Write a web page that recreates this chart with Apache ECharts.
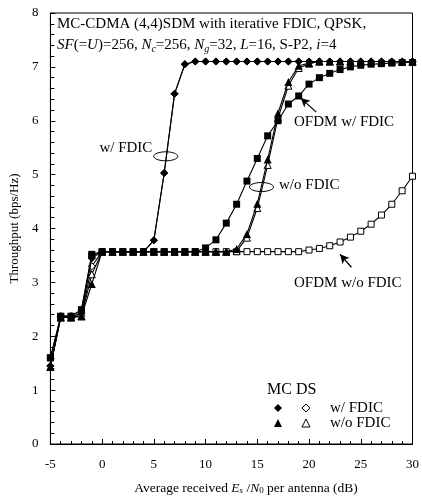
<!DOCTYPE html>
<html>
<head>
<meta charset="utf-8">
<script src="https://cdn.jsdelivr.net/npm/echarts@6/dist/echarts.min.js"></script>
<style>html,body{margin:0;padding:0;background:#fff}#c{width:422px;height:500px}</style>
</head>
<body>
<div id="c"></div>
<script>
// Es/N0 grid (dB)
const snr = [-5,-4,-3,-2,-1,0,1,2,3,4,5,6,7,8,9,10,11,12,13,14,15,16,17,18,19,20,21,22,23,24,25,26,27,28,29,30];
// MC-CDMA w/ FDIC (filled diamond)
const mcWith = [1.45,2.37,2.37,2.42,3.45,3.57,3.57,3.57,3.57,3.57,3.78,5.03,6.5,7.05,7.1,7.1,7.1,7.1,7.1,7.1,7.1,7.1,7.1,7.1,7.1,7.1,7.1,7.1,7.1,7.1,7.1,7.1,7.1,7.1,7.1,7.1];
// DS-CDMA w/ FDIC (open diamond)
const dsWith = [1.45,2.37,2.37,2.38,3.3,3.57,3.57,3.57,3.57,3.57,3.78,5.03,6.5,7.05,7.1,7.1,7.1,7.1,7.1,7.1,7.1,7.1,7.1,7.1,7.1,7.1,7.1,7.1,7.1,7.1,7.1,7.1,7.1,7.1,7.1,7.1];
// MC-CDMA w/o FDIC (filled triangle)
const mcWithout = [1.43,2.35,2.35,2.37,2.97,3.57,3.57,3.57,3.57,3.57,3.57,3.57,3.57,3.57,3.57,3.57,3.57,3.57,3.62,3.9,4.46,5.28,6.14,6.72,7.02,7.07,7.1,7.1,7.1,7.1,7.1,7.1,7.1,7.1,7.1,7.1];
// DS-CDMA w/o FDIC (open triangle)
const dsWithout = [1.43,2.35,2.35,2.37,3.15,3.57,3.57,3.57,3.57,3.57,3.57,3.57,3.57,3.57,3.57,3.57,3.57,3.57,3.58,3.83,4.38,5.18,6.05,6.65,6.98,7.06,7.1,7.1,7.1,7.1,7.1,7.1,7.1,7.1,7.1,7.1];
// OFDM w/ FDIC (filled square)
const ofdmWith = [1.6,2.37,2.37,2.49,3.52,3.57,3.57,3.57,3.57,3.57,3.57,3.57,3.57,3.57,3.57,3.64,3.79,4.1,4.45,4.88,5.3,5.72,6.0,6.31,6.46,6.68,6.8,6.88,6.95,7.0,7.03,7.05,7.06,7.07,7.08,7.08];
// OFDM w/o FDIC (open square)
const ofdmWithout = [1.6,2.37,2.37,2.49,3.5,3.57,3.57,3.57,3.57,3.57,3.57,3.57,3.57,3.57,3.57,3.57,3.57,3.57,3.57,3.57,3.57,3.57,3.57,3.57,3.57,3.6,3.63,3.68,3.75,3.84,3.95,4.08,4.25,4.45,4.7,4.97];

const xTicks = [-5,0,5,10,15,20,25,30];
const yTicks = [0,1,2,3,4,5,6,7,8];

const FONT = 'Liberation Serif';
const pairs = arr => snr.map((x,i)=>[x,arr[i]]);

function mk(name, arr, symbol, size, filled, z){
  return {
    name, type:'line', data:pairs(arr), symbol, symbolSize:size, z,
    showSymbol:true, animation:false,
    lineStyle:{color:'#000', width:1.1},
    itemStyle:{color: filled ? '#000' : '#fff', borderColor:'#000', borderWidth: filled?0:1}
  };
}

const chart = echarts.init(document.getElementById('c'), null, {renderer:'canvas'});

const series = [
  mk('OFDM w/o FDIC', ofdmWithout, 'rect', 6, false, 2),
  mk('DS w/ FDIC', dsWith, 'diamond', 7, false, 3),
  mk('MC w/ FDIC', mcWith, 'diamond', 8, true, 4),
  mk('DS w/o FDIC', dsWithout, 'triangle', 7, false, 5),
  mk('MC w/o FDIC', mcWithout, 'triangle', 8, true, 6),
  mk('OFDM w/ FDIC', ofdmWith, 'rect', 7, true, 7),
  {
    type:'line', data:[], z:8, silent:true,
    markLine:{
      silent:true, symbol:['none','arrow'], symbolSize:[7,9], animation:false,
      label:{show:false},
      lineStyle:{color:'#000', width:1.3, type:'solid'},
      data:[
        [{coord:[20.7,6.16]},{coord:[19.2,6.42]}],
        [{coord:[24.1,3.28]},{coord:[23.0,3.52]}]
      ]
    }
  }
];

chart.setOption({
  animation:false,
  textStyle:{fontFamily:FONT},
  grid:{left:47, right:2, top:13, bottom:56, show:true, borderColor:'#000', borderWidth:1, backgroundColor:'transparent'},
  xAxis:{
    type:'value', min:xTicks[0], max:xTicks[xTicks.length-1], interval:5,
    axisLine:{onZero:false, lineStyle:{color:'#000', width:1}},
    axisTick:{inside:true, length:5, lineStyle:{color:'#000'}},
    minorTick:{show:true, splitNumber:5, length:3, lineStyle:{color:'#000'}},
    splitLine:{show:false},
    axisLabel:{color:'#000', fontSize:13, fontFamily:FONT, margin:14}
  },
  yAxis:{
    type:'value', min:yTicks[0], max:yTicks[yTicks.length-1], interval:1,
    name:'Throughput (bps/Hz)', nameLocation:'middle', nameGap:29,
    nameTextStyle:{color:'#000', fontSize:13, fontFamily:FONT},
    axisLine:{onZero:false, lineStyle:{color:'#000', width:1}},
    axisTick:{inside:true, length:5, lineStyle:{color:'#000'}},
    minorTick:{show:true, splitNumber:5, length:4, lineStyle:{color:'#000'}},
    splitLine:{show:false},
    axisLabel:{color:'#000', fontSize:13, fontFamily:FONT, margin:12}
  },
  series
});

function px(x,y){ return chart.convertToPixel({gridIndex:0},[x,y]); }

const T = {fontFamily:FONT, fill:'#000', fontSize:15};
const richT = {
  i:{fontFamily:FONT, fontStyle:'italic', fontSize:15, color:'#000'},
  n:{fontFamily:FONT, fontSize:15, color:'#000'},
  sub:{fontFamily:FONT, fontStyle:'italic', fontSize:10, color:'#000', padding:[7,0,0,0]}
};
const richX = {
  i:{fontFamily:FONT, fontStyle:'italic', fontSize:13.5, color:'#000'},
  n:{fontFamily:FONT, fontSize:13.5, color:'#000'},
  sub:{fontFamily:FONT, fontStyle:'italic', fontSize:9, color:'#000', padding:[5,0,0,0]},
  sub0:{fontFamily:FONT, fontSize:9, color:'#000', padding:[5,0,0,0]}
};

const p1 = px(4.85,5.5), e1 = px(6.15,5.34);
const p2 = px(17.1,4.8), e2 = px(15.4,4.77);
const p3 = px(18.55,5.97);
const p4 = px(18.55,2.99);

const graphic = [
  {type:'text', left:57, top:17, style:{...T, text:'MC-CDMA (4,4)SDM with iterative FDIC, QPSK,'}},
  {type:'text', left:57, top:38, style:{...T, text:'{i|SF}{n|(=}{i|U}{n|)=256, }{i|N}{sub|c}{n|=256, }{i|N}{sub|g}{n|=32, }{i|L}{n|=16, S-P2, }{i|i}{n|=4}', rich:richT}},
  {type:'text', x:p1[0], y:p1[1], style:{...T, text:'w/ FDIC', align:'right', verticalAlign:'middle'}},
  {type:'ellipse', shape:{cx:e1[0], cy:e1[1], rx:12, ry:4.5}, style:{fill:'none', stroke:'#000', lineWidth:1}, z:100},
  {type:'text', x:p2[0], y:p2[1], style:{...T, text:'w/o FDIC', align:'left', verticalAlign:'middle'}},
  {type:'ellipse', shape:{cx:e2[0], cy:e2[1], rx:12, ry:4.5}, style:{fill:'none', stroke:'#000', lineWidth:1}, z:100},
  {type:'text', x:p3[0], y:p3[1], style:{...T, text:'OFDM w/ FDIC', align:'left', verticalAlign:'middle'}},
  {type:'text', x:p4[0], y:p4[1], style:{...T, text:'OFDM w/o FDIC', align:'left', verticalAlign:'middle'}},
  // legend
  {type:'text', x:267, y:390, style:{...T, fontSize:16, text:'MC DS', verticalAlign:'middle'}},
  {type:'polygon', shape:{points:[[278,404],[282,408],[278,412],[274,408]]}, style:{fill:'#000'}},
  {type:'polygon', shape:{points:[[306,404],[310,408],[306,412],[302,408]]}, style:{fill:'#fff', stroke:'#000', lineWidth:1}},
  {type:'text', x:330, y:408, style:{...T, text:'w/ FDIC', verticalAlign:'middle'}},
  {type:'polygon', shape:{points:[[278,419],[282,427],[274,427]]}, style:{fill:'#000'}},
  {type:'polygon', shape:{points:[[306,419],[310,427],[302,427]]}, style:{fill:'#fff', stroke:'#000', lineWidth:1}},
  {type:'text', x:330, y:423, style:{...T, text:'w/o FDIC', verticalAlign:'middle'}},
  // x axis name
  {type:'text', x:246, y:488, style:{...T, fontSize:13.5, text:'{n|Average received }{i|E}{sub|s}{n| /}{i|N}{sub0|0}{n| per antenna (dB)}', rich:richX, align:'center', verticalAlign:'middle'}}
];
chart.setOption({graphic});
</script>
</body>
</html>
